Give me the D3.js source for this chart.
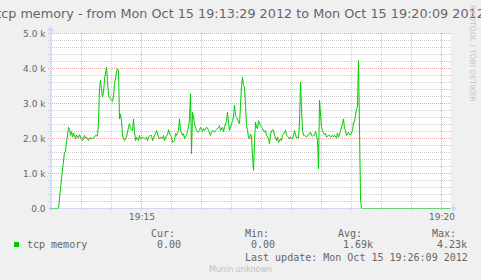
<!DOCTYPE html>
<html><head><meta charset="utf-8">
<script src="https://cdn.jsdelivr.net/npm/d3@7"></script>
<style>html,body{margin:0;padding:0;background:#f0f0f0;overflow:hidden}</style>
</head><body>
<svg id="chart" width="481" height="280"></svg>
<script>
const title = "tcp memory - from Mon Oct 15 19:13:29 2012 to Mon Oct 15 19:20:09 2012";
const startTime = "2012-10-15T19:13:29";
const endTime = "2012-10-15T19:20:09";
// seconds after start time
const seconds = [0,8,11,14,15,16,18,19,20,21,22,23,25,26,28,29,31,32,34,35,36,38,40,41,43,45,47,48,49,50,51,52,53,54,56,57,58,59,60,62,63,64,66,67,68,69,70,71,72,73,74,76,77,78,79,80,82,83,84,85,86,88,89,90,92,93,94,96,97,98,100,101,102,104,105,106,108,109,110,112,113,114,116,117,118,120,121,122,124,125,126,128,129,130,132,133,134,136,137,138,139,140,141,142,143,144,145,146,148,149,150,152,153,154,156,157,158,160,161,162,164,165,166,168,169,170,172,173,174,176,177,178,179,180,182,183,184,185,186,188,189,190,191,192,193,194,195,196,197,198,199,200,201,202,203,204,205,206,207,208,210,211,212,214,215,216,218,219,220,222,223,224,226,227,228,230,231,232,234,235,236,238,239,240,242,243,244,246,247,248,249,250,251,252,253,254,256,257,258,260,261,262,264,265,266,267,268,269,270,271,272,274,275,276,278,279,280,282,283,284,286,287,288,289,290,292,293,294,295,296,298,299,300,302,303,304,305,306,307,308,310,311,400];
// tcp memory (bytes)
const tcpMemory = [0,0,850,1610,1630,1890,2320,2260,2090,2200,2040,2160,1990,2100,2010,2110,1990,1940,2090,2010,2040,1940,2040,1990,2010,2090,2070,2470,3420,3660,3420,3180,3320,3700,4040,3660,3230,3180,3130,3060,3230,3560,3900,3990,3940,2560,2700,2510,2090,1990,1940,2040,2180,2320,2420,2280,2230,2560,2180,1940,2040,1940,2090,1990,2040,2010,1990,2040,1940,2040,2100,2090,1940,2090,2140,2230,2040,1990,2040,1990,2090,1940,2090,2100,2250,2090,2040,1890,1940,2140,2090,2230,2560,2230,2090,2140,1990,2090,2230,2320,2560,3280,1560,2750,2610,2420,2320,2230,2180,2230,2320,2200,2280,2230,2320,2300,2230,2090,2180,2230,2180,2230,2260,2320,2370,2230,2320,2200,2320,2510,2750,2470,2230,2320,2510,2610,2950,2660,2610,2470,2420,2940,3510,3750,3510,3470,2940,2370,2230,2040,1990,2130,2040,1500,1090,1890,2470,2320,2280,2510,2370,2320,2280,2180,2230,2090,1990,1850,2130,2260,2230,2090,1940,2040,1890,1990,1940,2090,2180,2230,2090,2040,1990,2040,1990,2090,2230,2010,2040,2010,2470,3610,2850,2230,2090,2090,2040,2090,2100,2180,2090,2070,2100,2200,2090,1940,1130,3090,2700,2320,2230,2100,2140,2040,2090,2090,2040,2090,2040,2090,2010,2160,2040,2090,2230,2420,2560,2280,2230,2090,2180,2140,2100,2230,2470,2470,2660,2850,2900,4230,300,0,0];

const yTicks = [0,1000,2000,3000,4000,5000];
const yTickLabels = ["0.0","1.0 k","2.0 k","3.0 k","4.0 k","5.0 k"];
const xTicks = ["2012-10-15T19:15:00","2012-10-15T19:20:00"];
const xTickLabels = ["19:15","19:20"];
const seriesName = "tcp memory";
const legendHeaders = ["Cur:","Min:","Avg:","Max:"];
const legendValues = ["0.00","0.00","1.69k","4.23k"];
const lastUpdate = "Last update: Mon Oct 15 19:26:09 2012";
const watermark = "Munin unknown";
const vendor = "RRDTOOL / TOBI OETIKER";

const svg = d3.select("#chart");
const FONT = "'DejaVu Sans', Verdana, sans-serif";
const MONO = "'DejaVu Sans Mono', monospace";
const fontCol = "#666666", axisCol = "#cfd6f8", lineCol = "#00cc00";

const t0 = new Date(startTime), t1 = new Date(endTime);
const x = d3.scaleTime().domain([t0, t1]).range([50.5, 450.5]);
const y = d3.scaleLinear().domain([0, 5000]).range([208.5, 33.5]);
const crisp = v => Math.floor(v) + 0.5;

svg.append("rect").attr("width",481).attr("height",280).attr("fill","#f0f0f0");
svg.append("rect").attr("x",50.5).attr("y",33).attr("width",400).attr("height",175.5).attr("fill","#ffffff");

// grid
const g = svg.append("g");
const minorY = d3.range(200, 5001, 200).filter(v => v % 1000 !== 0);
g.selectAll(".gy").data(minorY).join("line")
  .attr("x1",48).attr("x2",452).attr("y1",d=>crisp(y(d))).attr("y2",d=>crisp(y(d)))
  .attr("stroke","#cccccc").attr("stroke-dasharray","1,1");
const minorX = d3.timeSecond.every(30).range(t0, t1).filter(d => d.getMinutes() % 5 !== 0 || d.getSeconds() !== 0);
g.selectAll(".gx").data(minorX).join("line")
  .attr("y1",33).attr("y2",210).attr("x1",d=>crisp(x(d))).attr("x2",d=>crisp(x(d)))
  .attr("stroke","#cccccc").attr("stroke-dasharray","1,1");
const majorY = yTicks.filter(v => v > 0);
g.selectAll(".my").data(majorY).join("line")
  .attr("x1",48).attr("x2",452).attr("y1",d=>crisp(y(d))).attr("y2",d=>crisp(y(d)))
  .attr("stroke","#eaa8a8").attr("stroke-dasharray","1,1");
const xTickDates = xTicks.map(s => new Date(s));
g.selectAll(".mx").data(xTickDates).join("line")
  .attr("y1",33).attr("y2",210).attr("x1",d=>crisp(x(d))).attr("x2",d=>crisp(x(d)))
  .attr("stroke","#eaa8a8").attr("stroke-dasharray","1,1");

// axes lines + arrows (under the data)
svg.append("line").attr("x1",48).attr("x2",454).attr("y1",208.5).attr("y2",208.5).attr("stroke",axisCol);
svg.append("line").attr("x1",50.5).attr("x2",50.5).attr("y1",211).attr("y2",29).attr("stroke",axisCol);
svg.append("path").attr("d","M452,205 L457,208.5 L452,212 Z").attr("fill",axisCol);
svg.append("path").attr("d","M47,31 L50.5,26 L54,31 Z").attr("fill",axisCol);

// data line
const pts = seconds.map((s,i) => ({t: new Date(t0.getTime() + s*1000), v: tcpMemory[i]}));
svg.append("path").datum(pts)
  .attr("d", d3.line().x(d=>x(d.t)).y(d=>y(d.v)))
  .attr("fill","none").attr("stroke",lineCol).attr("stroke-width",1);
// axis overlay blending with the line at zero
svg.append("line").attr("x1",48).attr("x2",454).attr("y1",208.5).attr("y2",208.5)
  .attr("stroke",axisCol).attr("stroke-opacity",0.5);

// y axis labels
const yAxis = svg.append("g").attr("transform","translate(50.5,0)")
  .call(d3.axisLeft(y).tickValues(yTicks).tickSize(0).tickPadding(5).tickFormat((d,i)=>yTickLabels[i]));
yAxis.select(".domain").remove();
yAxis.selectAll("text").attr("font-family",FONT).attr("font-size","9px").attr("fill",fontCol).attr("dy","0.36em");

const xAxis = svg.append("g").attr("transform","translate(0,208.5)")
  .call(d3.axisBottom(x).tickValues(xTickDates).tickSize(0).tickPadding(5).tickFormat((d,i)=>xTickLabels[i]));
xAxis.select(".domain").remove();
xAxis.selectAll("text").attr("font-family",FONT).attr("font-size","9px").attr("fill",fontCol);

// title
svg.append("text").attr("x",240.5).attr("y",18).attr("text-anchor","middle")
  .attr("font-family",FONT).attr("font-size","12.8px").attr("fill",fontCol).text(title);

// vendor watermark
svg.append("text").attr("transform","translate(470,5) rotate(90)")
  .attr("font-family",FONT).attr("font-size","7.5px").attr("fill","#c4c4c4").text(vendor);

// legend
svg.append("rect").attr("x",14).attr("y",242).attr("width",5).attr("height",5).attr("fill",lineCol);
svg.append("text").attr("x",27).attr("y",248).attr("font-family",MONO).attr("font-size","10px").attr("fill",fontCol).text(seriesName);
const headX = [151,245,338,432], valX = [157,251,343,437];
svg.selectAll(".lh").data(legendHeaders).join("text")
  .attr("x",(d,i)=>headX[i]).attr("y",237).attr("font-family",MONO).attr("font-size","10px").attr("fill",fontCol).text(d=>d);
svg.selectAll(".lv").data(legendValues).join("text")
  .attr("x",(d,i)=>valX[i]).attr("y",248).attr("font-family",MONO).attr("font-size","10px").attr("fill",fontCol).text(d=>d);
svg.append("text").attr("x",245).attr("y",261).attr("font-family",MONO).attr("font-size","10px").attr("fill",fontCol).text(lastUpdate);
svg.append("text").attr("x",240.5).attr("y",272).attr("text-anchor","middle").attr("font-family",FONT)
  .attr("font-size","8px").attr("fill","#c0c0c0").text(watermark);
</script>
</body></html>
